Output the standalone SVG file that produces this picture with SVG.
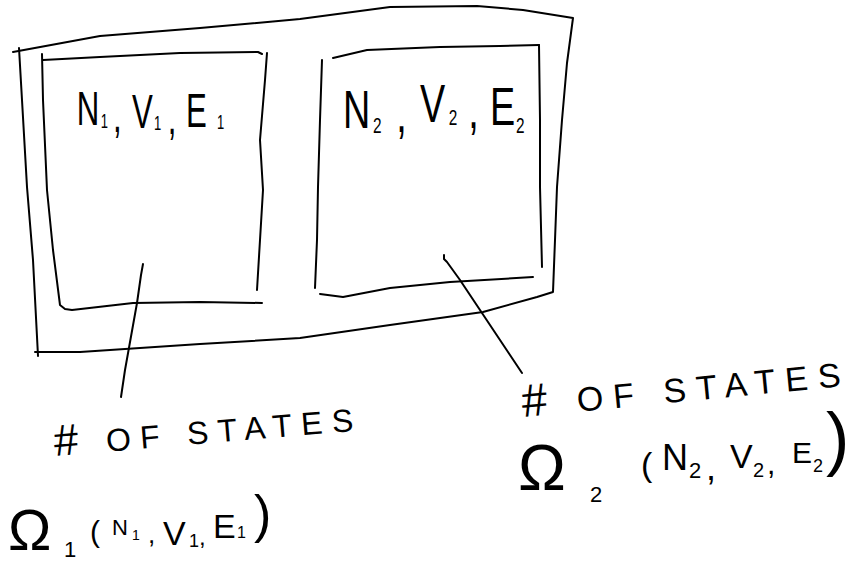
<svg xmlns="http://www.w3.org/2000/svg" width="849" height="564" viewBox="0 0 849 564">
<style>
  .ink { fill: none; stroke: #000; stroke-width: 2; stroke-linejoin: round; stroke-linecap: round; }
  .hand { font-family: "Liberation Sans", "DejaVu Sans", sans-serif; fill: #000; }
</style>
<rect x="0" y="0" width="849" height="564" fill="#fff"/>

<g id="outer-system">
  <path class="ink" d="M13,52 L100,36 L200,28 L300,19 L390,7 L477,6 L523,10 L573,18 L567,63 L562,120 L557,187 L555,240 L553,292 L537,297 L483,312 L390,325 L300,338 L200,344 L80,352 L35,352"/>
  <path class="ink" d="M19,48 L22,100 L27,187 L33,260 L38,356"/>
</g>

<g id="subsystem-1">
  <path class="ink" d="M42,54 L43,100 L47,190 L53,250 L60,305 L65,309 L72,310 L133,303 L200,302 L262,303"/>
  <path class="ink" d="M43,60 L100,57 L180,53 L258,52 L262,54"/>
  <path class="ink" d="M267,53 L265,80 L260,140 L263,190 L260,240 L257,290"/>
  <text class="hand" font-size="48" transform="scale(0.65,1)"><tspan x="118" y="125">N</tspan><tspan x="155" y="128" font-size="20">1</tspan><tspan x="174" y="132">, </tspan><tspan x="203" y="128">V</tspan><tspan x="237" y="130" font-size="20">1</tspan><tspan x="258" y="134">, </tspan><tspan x="286" y="127">E</tspan><tspan x="334" y="129" font-size="20">1</tspan></text>
</g>

<g id="subsystem-2">
  <path class="ink" d="M322,60 L320,120 L318,187 L317,240 L315,288"/>
  <path class="ink" d="M320,294 L343,297 L390,288 L450,282 L533,277"/>
  <path class="ink" d="M333,58 L367,50 L440,47 L500,46 L539,45"/>
  <path class="ink" d="M539,45 L540,120 L540,187 L542,267"/>
  <text class="hand" font-size="54" transform="scale(0.7,1)"><tspan x="490" y="128">N</tspan><tspan x="533" y="133" font-size="22">2</tspan><tspan x="566" y="132">, </tspan><tspan x="600" y="122">V</tspan><tspan x="641" y="125" font-size="22">2</tspan><tspan x="669" y="128">, </tspan><tspan x="700" y="125">E</tspan><tspan x="737" y="133" font-size="22">2</tspan></text>
</g>

<g id="connectors">
  <path class="ink" d="M143,264 L141,275 L137,303 L125,370 L121,397"/>
  <path class="ink" d="M444,255 L444,259 L447,262 L460,280 L482,313 L500,340 L522,373"/>
</g>

<g id="states-1">
  <text class="hand" font-size="32" x="55" y="456" textLength="300" lengthAdjust="spacing" transform="rotate(-4.8 55 456)"><tspan font-size="44">#</tspan> OF STATES</text>
  <text class="hand"><tspan x="8" y="550" font-size="58">Ω</tspan><tspan x="64" y="557" font-size="22">1</tspan><tspan x="90" y="542" font-size="30">(</tspan><tspan x="112" y="535" font-size="22">N</tspan><tspan x="132" y="540" font-size="14">1</tspan><tspan x="148" y="543" font-size="26">, </tspan><tspan x="163" y="545" font-size="34">V</tspan><tspan x="189" y="547" font-size="18">1</tspan><tspan x="199" y="545" font-size="24">, </tspan><tspan x="213" y="538" font-size="34">E</tspan><tspan x="237" y="538" font-size="16">1</tspan><tspan x="254" y="532" font-size="52">)</tspan></text>
</g>

<g id="states-2">
  <text class="hand" font-size="34" x="523" y="417" textLength="320" lengthAdjust="spacing" transform="rotate(-5.5 523 417)"><tspan font-size="46">#</tspan> OF STATES</text>
  <text class="hand"><tspan x="518" y="490" font-size="64">Ω</tspan><tspan x="590" y="502" font-size="22">2 </tspan><tspan x="641" y="476" font-size="34">(</tspan><tspan x="662" y="470" font-size="36">N</tspan><tspan x="689" y="478" font-size="22">2</tspan><tspan x="706" y="480" font-size="36">, </tspan><tspan x="730" y="468" font-size="34">V</tspan><tspan x="753" y="477" font-size="20">2</tspan><tspan x="767" y="474" font-size="30">, </tspan><tspan x="792" y="463" font-size="30">E</tspan><tspan x="813" y="472" font-size="18">2</tspan><tspan x="826" y="462" font-size="70">)</tspan></text>
</g>
</svg>
